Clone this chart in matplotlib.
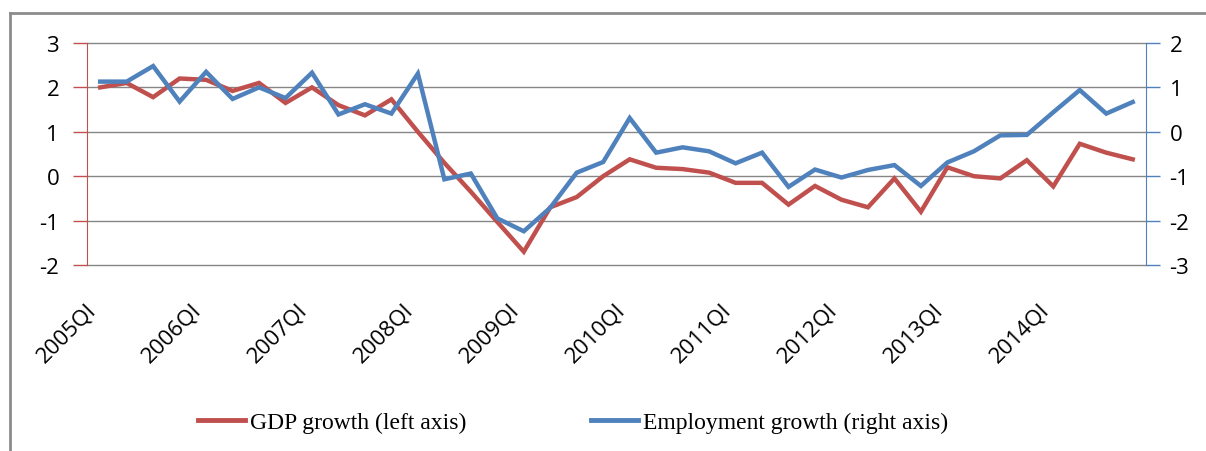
#!/usr/bin/env python3
"""
GDP vs employment growth, quarterly, two y axes
"""
import numpy as np
import matplotlib.pyplot as plt
from matplotlib.lines import Line2D
from matplotlib.transforms import ScaledTranslation

# quarters 2005Q1 .. 2014Q4
years = list(range(2005, 2015))
quarters = [f"{y}Q{q}" for y in years for q in ("I", "II", "III", "IV")]

gdp_growth = [2.0, 2.1, 1.78, 2.2, 2.17, 1.92, 2.1, 1.65, 2.0, 1.6,
              1.37, 1.73, 1.0, 0.3, -0.35, -1.03, -1.7, -0.7, -0.47, 0.0,
              0.38, 0.19, 0.16, 0.08, -0.15, -0.15, -0.64, -0.22, -0.53, -0.7,
              -0.05, -0.8, 0.2, 0.0, -0.05, 0.36, -0.23, 0.73, 0.53, 0.38]

employment_growth = [1.13, 1.13, 1.48, 0.68, 1.35, 0.74, 1.0, 0.76, 1.33, 0.39,
                     0.62, 0.41, 1.31, -1.07, -0.94, -1.95, -2.24, -1.71, -0.92, -0.68,
                     0.31, -0.47, -0.35, -0.44, -0.71, -0.47, -1.24, -0.85, -1.03, -0.86,
                     -0.75, -1.22, -0.69, -0.44, -0.08, -0.07, 0.44, 0.94, 0.41, 0.67]

left_ticks = [3, 2, 1, 0, -1, -2]
right_ticks = [2, 1, 0, -1, -2, -3]

RED = "#C0504D"
BLUE = "#4F81BD"
GRID = "#868686"

plt.rcParams['font.family'] = ['Open Sans', 'DejaVu Sans']
plt.rcParams['axes.unicode_minus'] = False  # plain hyphen like the original

fig = plt.figure(figsize=(12.06, 4.52), dpi=100)
ax = fig.add_axes([0.0721, 0.4115, 0.8781, 0.4912])
ax2 = ax.twinx()

x = np.arange(len(quarters))
ax.plot(x, gdp_growth, color=RED, linewidth=3.2, solid_joinstyle='miter',
        label="GDP growth (left axis)", zorder=3)
ax2.plot(x, employment_growth, color=BLUE, linewidth=3.2, solid_joinstyle='miter',
         label="Employment growth (right axis)", zorder=3)

ax.set_xlim(-0.5, len(quarters) - 0.5)
ax.set_ylim(-2, 3)
ax2.set_ylim(-3, 2)

# horizontal gridlines from the left axis
ax.set_yticks(left_ticks)
ax.yaxis.grid(True, color=GRID, linewidth=1.0)
ax.set_axisbelow(True)
for gl in ax.get_ygridlines():
    gl.set_clip_on(False)
ax2.set_yticks(right_ticks)

# x labels every fourth quarter
ax.set_xticks(x[::4])
ax.set_xticklabels(quarters[::4], rotation=45, ha='right', va='top',
                   rotation_mode='anchor', fontsize=16)
ax.tick_params(axis='x', length=0, pad=24)
shift = ScaledTranslation(-15 / 100, 0, fig.dpi_scale_trans)
for lbl in ax.get_xticklabels():
    lbl.set_transform(lbl.get_transform() + shift)

for a in (ax, ax2):
    for s in ('top', 'bottom'):
        a.spines[s].set_visible(False)
ax.spines['right'].set_visible(False)
ax2.spines['left'].set_visible(False)
ax.spines['left'].set_color(RED)
ax2.spines['right'].set_color(BLUE)

ax.tick_params(axis='y', colors=RED, labelcolor='black', length=10,
               width=1, labelsize=16, pad=10)
ax2.tick_params(axis='y', colors=BLUE, labelcolor='black', length=10,
                width=1, labelsize=16, pad=7)

# legend below the plot
handles = [Line2D([], [], color=RED, linewidth=3.5),
           Line2D([], [], color=BLUE, linewidth=3.5)]
fig.legend(handles, ["GDP growth (left axis)", "Employment growth (right axis)"],
           loc='center', bbox_to_anchor=(0.475, 0.064), ncol=2, frameon=False,
           prop={'family': 'Liberation Serif', 'size': 17},
           handlelength=2.0, handletextpad=0.2, columnspacing=5.3)

# chart frame (only top and left edges show in the crop)
fig.add_artist(Line2D([0.0083, 1.0], [0.9683, 0.9683], color='#8C8C8C',
                      linewidth=2, transform=fig.transFigure))
fig.add_artist(Line2D([0.0083, 0.0083], [0.0, 0.9683], color='#8C8C8C',
                      linewidth=2, transform=fig.transFigure))

fig.savefig("out.png", dpi=100)
plt.close(fig)
